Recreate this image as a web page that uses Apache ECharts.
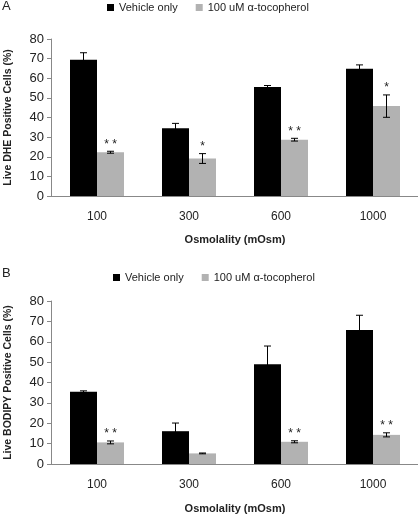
<!DOCTYPE html>
<html>
<head>
<meta charset="utf-8">
<script src="https://cdn.jsdelivr.net/npm/echarts@6/dist/echarts.min.js"></script>
<style>html,body{margin:0;padding:0;background:#fff;}#c{width:418px;height:514px;}</style>
</head>
<body>
<div id="c"></div>
<script>
const categories = ['100', '300', '600', '1000'];
const seriesNames = ['Vehicle only', '100 uM α-tocopherol'];
// Panel A: Live DHE Positive Cells (%)
const vehA = [69.4, 34.5, 55.6, 64.8];
const vehAErr = [3.6, 2.5, 0.7, 2.0];
const tocA = [22.3, 19.1, 28.7, 45.8];
const tocAErr = [0.5, 2.5, 0.7, 5.7];
const sigA = ['* *', '*', '* *', '*'];
// Panel B: Live BODIPY Positive Cells (%)
const vehB = [35.4, 16.1, 48.9, 65.8];
const vehBErr = [0.5, 4.0, 9.0, 7.2];
const tocB = [10.6, 5.2, 10.9, 14.3];
const tocBErr = [0.7, 0.2, 0.5, 1.0];
const sigB = ['* *', '', '* *', '* *'];
const yTicks = [0, 10, 20, 30, 40, 50, 60, 70, 80];

const FONT = 'Liberation Sans';
const BW = 27;

function errSeries(ai, vals, errs, side, sig) {
  return {
    type: 'custom', xAxisIndex: ai, yAxisIndex: ai, silent: true, z: 10,
    data: vals.map((v, i) => [i, v, errs[i]]),
    renderItem: function (params, api) {
      const i = api.value(0), v = api.value(1), e = api.value(2);
      const s = sig ? sig[i] : '';
      const top = api.coord([i, v + e]);
      const bot = api.coord([i, v - e]);
      const x = top[0] + side * BW / 2;
      const cw = 3.5;
      const st = {stroke: '#000', lineWidth: 1};
      const ch = [
        {type: 'line', shape: {x1: x, y1: top[1], x2: x, y2: bot[1]}, style: st},
        {type: 'line', shape: {x1: x - cw, y1: top[1], x2: x + cw, y2: top[1]}, style: st},
        {type: 'line', shape: {x1: x - cw, y1: bot[1], x2: x + cw, y2: bot[1]}, style: st}
      ];
      if (s) {
        ch.push({type: 'text', style: {text: s, x: x, y: top[1] - 1, align: 'center', verticalAlign: 'bottom', font: '12px ' + FONT, fill: '#222'}});
      }
      return {type: 'group', children: ch};
    }
  };
}

function barSeries(ai, name, vals, color) {
  return {type: 'bar', name: name, xAxisIndex: ai, yAxisIndex: ai, data: vals, barWidth: BW, barGap: '0%',
    itemStyle: {color: color}, silent: true};
}

function xAxis(gi, gap) {
  return {type: 'category', gridIndex: gi, data: categories,
    axisLine: {lineStyle: {color: '#888', width: 1}}, axisTick: {show: false},
    axisLabel: {color: '#222', fontSize: 12, fontFamily: FONT, margin: 15},
    name: 'Osmolality (mOsm)', nameLocation: 'middle', nameGap: gap,
    nameTextStyle: {color: '#222', fontSize: 11, fontWeight: 'bold', fontFamily: FONT}};
}
function yAxis(gi, title) {
  return {type: 'value', gridIndex: gi, min: 0, max: 80, interval: 10,
    axisLine: {show: true, lineStyle: {color: '#888', width: 1}},
    axisTick: {show: true, length: 4, lineStyle: {color: '#888'}},
    splitLine: {show: false},
    axisLabel: {color: '#222', fontSize: 13, fontFamily: FONT, margin: 7,
      formatter: v => yTicks.includes(v) ? String(v) : ''},
    name: title, nameLocation: 'middle', nameGap: 37, nameRotate: 90,
    nameTextStyle: {color: '#222', fontSize: 10.5, fontWeight: 'bold', fontFamily: FONT}};
}
function legend(top, left) {
  return {top: top, left: left, itemWidth: 7, itemHeight: 7, itemGap: 18, icon: 'rect', data: seriesNames,
    textStyle: {color: '#222', fontSize: 11, fontFamily: FONT}, selectedMode: false};
}

const chart = echarts.init(document.getElementById('c'), null, {renderer: 'canvas'});
chart.setOption({
  animation: false,
  backgroundColor: '#fff',
  grid: [
    {left: 51, top: 39, width: 368, height: 157, containLabel: false, outerBoundsMode: 'none'},
    {left: 51, top: 301, width: 368, height: 163, containLabel: false, outerBoundsMode: 'none'}
  ],
  legend: [legend(-3, 102), legend(267, 108)],
  xAxis: [xAxis(0, 38), xAxis(1, 39)],
  yAxis: [yAxis(0, 'Live DHE Positive Cells (%)'), yAxis(1, 'Live BODIPY Positive Cells (%)')],
  graphic: [
    {type: 'text', left: 2, top: 0, style: {text: 'A', font: '13px ' + FONT, fill: '#222'}},
    {type: 'text', left: 2, top: 267, style: {text: 'B', font: '13px ' + FONT, fill: '#222'}}
  ],
  series: [
    barSeries(0, seriesNames[0], vehA, '#000000'),
    barSeries(0, seriesNames[1], tocA, '#b2b2b2'),
    barSeries(1, seriesNames[0], vehB, '#000000'),
    barSeries(1, seriesNames[1], tocB, '#b2b2b2'),
    errSeries(0, vehA, vehAErr, -1, null),
    errSeries(0, tocA, tocAErr, 1, sigA),
    errSeries(1, vehB, vehBErr, -1, null),
    errSeries(1, tocB, tocBErr, 1, sigB)
  ]
});
</script>
</body>
</html>
